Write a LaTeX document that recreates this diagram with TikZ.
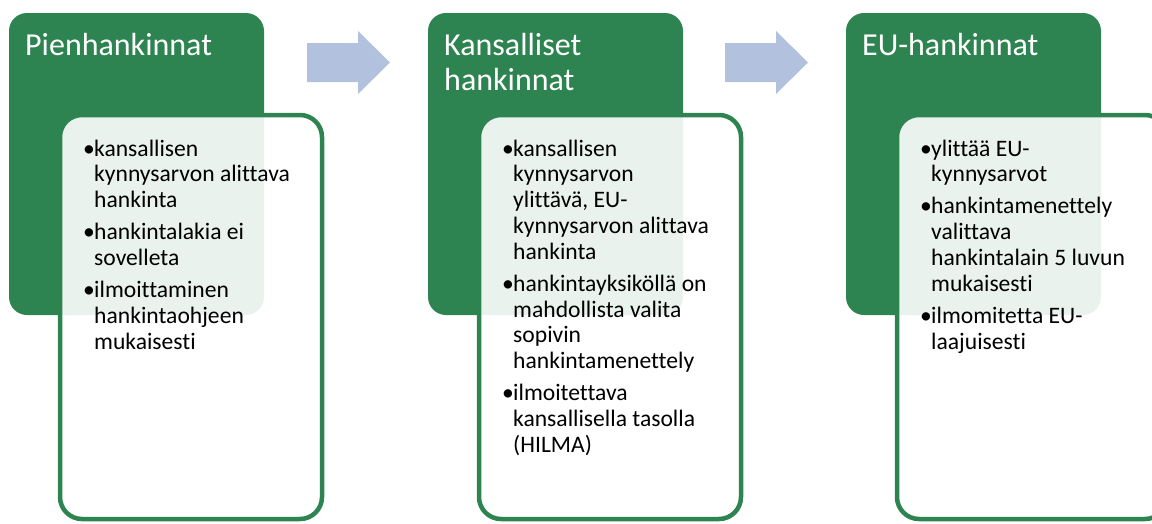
\documentclass[tikz,border=0pt]{standalone}
\usepackage{fontspec}
\setmainfont{Carlito}[Ligatures={NoCommon}]
\definecolor{stagegreen}{RGB}{46,132,80}
\definecolor{stagearrow}{RGB}{178,193,222}
\newcommand{\itm}{\makebox[11pt][l]{\textbullet}}
\begin{document}
\begin{tikzpicture}[x=1pt,y=-1pt,
  headbox/.style={fill=stagegreen, rounded corners=18pt, minimum width=255pt,
    minimum height=302pt, anchor=north west, inner sep=0pt, outer sep=0pt},
  listbox/.style={draw=stagegreen, line width=4.5pt, fill=white, fill opacity=0.9,
    rounded corners=22pt, minimum height=404pt,
    anchor=north west, inner sep=0pt, outer sep=0pt},
  headtext/.style={text=white, anchor=base west, inner sep=0pt,
    font=\fontsize{32}{35}\selectfont},
  listtext/.style={anchor=base west, inner sep=0pt,
    font=\fontsize{23.6}{25.8}\selectfont}]
  \useasboundingbox (0,0) rectangle (1152,523);
  \clip (0,0) rectangle (1152,523);
  \foreach \px/\bw/\ttl/\body [count=\i] in {
    9/262/{Pienhankinnat}/{\itm & kansallisen\\ & kynnysarvon alittava\\ & hankinta\\[6.3pt]
      \itm & hankintalakia ei\\ & sovelleta\\[6.3pt]
      \itm & ilmoittaminen\\ & hankintaohjeen\\ & mukaisesti},
    428/262/{Kansalliset\\hankinnat}/{\itm & kansallisen\\ & kynnysarvon\\ & ylittävä, EU-\\
      & kynnysarvon alittava\\ & hankinta\\[6.3pt]
      \itm & hankintayksiköllä on\\ & mahdollista valita\\ & sopivin\\ & hankintamenettely\\[6.3pt]
      \itm & ilmoitettava\\ & kansallisella tasolla\\ & (HILMA)},
    846/270/{EU-hankinnat}/{\itm & ylittää EU-\\ & kynnysarvot\\[6.3pt]
      \itm & hankintamenettely\\ & valittava\\ & hankintalain 5 luvun\\ & mukaisesti\\[6.3pt]
      \itm & ilmomitetta EU-\\ & laajuisesti}} {
    \begin{scope}[xshift=\px pt]
      \node[headbox] (head\i) at (0,13) {};
      \node[headtext] (title\i) at (16,55)
        {\begin{tabular}[t]{@{}l@{}}\ttl\end{tabular}};
      \node[listbox, minimum width=\bw pt] (box\i) at (51,115) {};
      \node[listtext] (list\i) at (74,156)
        {\begin{tabular}[t]{@{}l@{}l@{}}\body\end{tabular}};
    \end{scope}
  }
  % block arrows between the stages
  \foreach \ax in {307,725}
    \fill[stagearrow] (\ax,43) -- (\ax+51,43) -- (\ax+51,31) -- (\ax+83,62.5)
      -- (\ax+51,94) -- (\ax+51,82) -- (\ax,82) -- cycle;
\end{tikzpicture}
\end{document}
